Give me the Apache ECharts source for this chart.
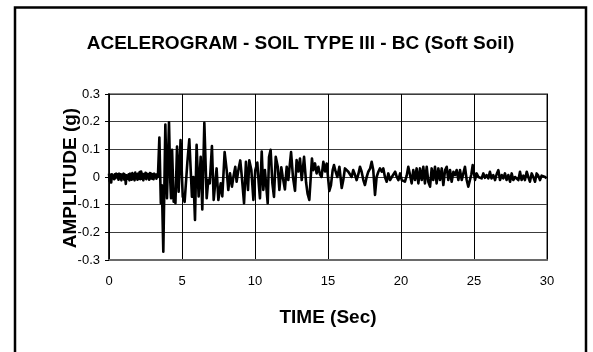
<!DOCTYPE html>
<html><head><meta charset="utf-8">
<script src="https://cdn.jsdelivr.net/npm/echarts@6/dist/echarts.min.js"></script>
<style>html,body{margin:0;padding:0;background:#fff}#c{width:593px;height:352px}</style>
</head><body><div id="c"></div>
<script>
var chartTitle = 'ACELEROGRAM - SOIL TYPE III - BC (Soft Soil)';
var xName = 'TIME (Sec)';
var yName = 'AMPLITUDE (g)';
var xTicks = [0, 5, 10, 15, 20, 25, 30];
var yTicks = [-0.3, -0.2, -0.1, 0, 0.1, 0.2, 0.3];

// time (s)
var time = [
0.00,0.05,0.10,0.15,0.20,0.25,0.30,0.35,0.40,0.45,0.50,0.55,0.60,0.65,0.70,0.75,0.80,0.85,0.90,0.95,
1.00,1.05,1.10,1.15,1.20,1.25,1.30,1.35,1.40,1.45,1.50,1.55,1.60,1.65,1.70,1.75,1.80,1.85,1.90,1.95,
2.00,2.05,2.10,2.15,2.20,2.25,2.30,2.35,2.40,2.45,2.50,2.55,2.60,2.65,2.70,2.75,2.80,2.85,2.90,2.95,
3.00,3.05,3.10,3.15,3.20,3.25,3.30,
3.35,3.45,3.55,3.62,3.72,3.86,3.97,4.11,4.20,4.25,4.32,4.43,4.50,4.55,4.66,4.77,4.90,
5.05,5.18,5.37,5.50,5.68,5.78,5.89,6.00,6.14,6.28,6.39,6.53,6.69,6.80,6.90,
7.05,7.17,7.27,7.37,7.49,7.65,7.76,7.92,8.06,8.17,8.29,8.42,8.52,8.65,8.74,8.88,8.99,
9.10,9.25,9.38,9.52,9.61,9.75,9.89,10.02,10.16,10.25,10.34,10.46,10.57,10.68,10.87,10.96,
11.07,11.19,11.30,11.42,11.56,11.67,11.80,11.90,12.05,12.17,12.28,12.47,12.60,12.74,12.85,12.97,
13.08,13.20,13.36,13.50,13.60,13.72,13.90,13.99,14.11,14.22,14.34,14.45,14.56,14.68,14.80,14.91,
15.00,15.09,15.20,15.32,15.41,15.52,15.64,15.78,15.94,16.05,16.16,16.28,16.39,16.50,16.62,16.73,16.85,16.96,
17.08,17.19,17.30,17.42,17.53,17.65,17.76,17.88,17.99,18.10,18.22,18.33,18.45,18.56,18.68,18.79,18.90,
19.02,19.13,19.25,19.37,19.48,19.60,19.71,19.82,19.94,20.05,20.16,20.27,20.39,20.50,20.62,20.73,20.84,20.96,
21.07,21.19,21.30,21.42,21.53,21.64,21.76,21.87,21.99,22.10,22.21,22.33,22.44,22.56,22.67,22.79,22.90,
23.02,23.13,23.24,23.36,23.47,23.59,23.70,23.81,23.93,24.04,24.16,24.27,24.38,24.50,24.61,24.73,24.82,24.91,
25.00,25.07,25.18,25.30,25.41,25.52,25.64,25.75,25.86,25.98,26.09,26.20,26.32,26.44,26.55,26.67,26.78,26.90,
27.01,27.12,27.23,27.35,27.47,27.58,27.69,27.81,27.92,28.04,28.15,28.26,28.38,28.49,28.61,28.72,28.83,28.95,
29.06,29.18,29.29,29.40,29.52,29.63,29.75,29.87,29.97
];
// acceleration (g)
var accel = [
0.012,-0.015,0.008,-0.02,0.01,0.004,0.012,-0.008,0.01,-0.004,0.012,0.0,0.01,-0.01,0.012,-0.005,0.01,-0.012,0.008,-0.003,
0.012,-0.01,0.008,-0.025,0.006,0.012,-0.006,0.01,-0.012,0.012,0.002,-0.01,0.014,-0.006,0.01,-0.012,0.016,-0.004,0.01,-0.01,
0.012,-0.006,0.018,-0.008,0.02,-0.006,0.012,-0.012,0.01,-0.004,0.015,-0.008,0.012,0.0,0.01,-0.01,0.014,-0.005,0.012,-0.006,
0.01,-0.008,0.012,0.0,0.008,-0.006,0.01,
0.0,0.143,-0.095,-0.03,-0.27,0.19,-0.077,0.198,-0.02,-0.077,0.098,-0.089,-0.05,-0.095,0.11,-0.053,0.134,
-0.071,-0.09,0.055,0.136,-0.071,0.0,-0.155,0.116,-0.07,0.073,-0.117,0.196,-0.077,-0.01,-0.023,
0.112,-0.083,-0.077,0.031,-0.083,-0.023,-0.07,0.09,0.025,-0.047,0.013,-0.035,0.0,0.037,-0.017,0.031,0.06,
0.0,-0.095,0.055,-0.047,0.06,0.025,-0.083,0.025,0.052,-0.02,-0.077,0.092,-0.047,0.025,-0.095,0.072,
0.098,-0.023,-0.072,0.073,0.037,-0.047,0.035,0.0,-0.045,0.037,-0.011,0.09,0.0,-0.05,0.061,0.02,
0.067,-0.011,0.073,-0.02,-0.06,-0.083,0.067,0.025,0.049,0.013,0.037,0.01,0.0,0.055,0.02,0.049,
0.0,-0.05,-0.03,0.025,0.043,0.02,0.0,0.037,-0.04,-0.01,0.031,0.03,0.019,0.025,0.0,0.025,0.008,-0.011,
0.01,0.037,0.02,-0.011,-0.029,0.0,0.019,0.03,0.055,0.025,-0.065,0.0,0.019,0.031,0.019,0.031,0.0,
-0.017,0.013,-0.011,0.0,-0.005,0.019,0.0,-0.011,0.013,-0.011,-0.017,-0.017,0.005,0.037,0.007,-0.023,0.025,-0.011,
0.031,-0.023,0.031,-0.011,0.037,-0.023,0.037,-0.017,-0.035,0.031,-0.011,0.037,-0.023,0.031,-0.011,0.031,-0.029,
0.025,0.037,-0.011,0.025,-0.017,0.019,0.007,0.025,-0.011,0.025,-0.011,0.013,0.037,-0.011,-0.035,-0.04,0.01,0.043,
0.013,-0.011,0.013,0.0,0.007,-0.005,0.013,-0.003,0.007,-0.005,0.019,-0.005,0.007,-0.011,0.01,0.025,-0.011,0.007,
-0.005,0.013,-0.011,0.007,-0.017,0.013,-0.011,0.0,0.007,-0.011,0.019,-0.011,0.005,-0.011,0.019,0.0,-0.017,0.013,
0.0,-0.017,0.013,0.005,-0.011,0.005,0.011,0.0,-0.005
];

var seriesData = time.map(function (t, i) { return [t, accel[i]]; });
var font = '"Liberation Sans", Arial, sans-serif';

var chart = echarts.init(document.getElementById('c'), null, {renderer: 'canvas'});
chart.setOption({
  animation: false,
  backgroundColor: '#fff',
  grid: {left: 109, top: 94, width: 438, height: 166, show: true, borderColor: '#8a8a8a', borderWidth: 2, backgroundColor: 'transparent'},
  xAxis: {
    type: 'value', min: xTicks[0], max: xTicks[xTicks.length - 1], interval: 5,
    axisLine: {show: true, onZero: false, lineStyle: {color: '#6a6a6a', width: 2}},
    axisTick: {show: false},
    splitLine: {show: true, lineStyle: {color: '#000', width: 1}},
    axisLabel: {color: '#000', fontSize: 13, fontFamily: font, margin: 15}
  },
  yAxis: {
    type: 'value', min: yTicks[0], max: yTicks[yTicks.length - 1], interval: 0.1,
    axisLine: {show: true, onZero: false, lineStyle: {color: '#000', width: 1.5}},
    axisTick: {show: true, length: 4, lineStyle: {color: '#000'}},
    splitLine: {show: true, lineStyle: {color: '#3c3c3c', width: 1}},
    axisLabel: {color: '#000', fontSize: 13, fontFamily: font, margin: 9,
      formatter: function (v) { var r = Math.round(v * 10) / 10; return r === 0 ? '0' : String(r); }}
  },
  series: [{
    type: 'line', data: seriesData, showSymbol: false, symbol: 'none',
    lineStyle: {color: '#000', width: 2.6, join: 'round'}, z: 3
  }],
  graphic: [
    {type: 'rect', shape: {x: 15, y: 7.5, width: 571, height: 400}, style: {fill: 'none', stroke: '#000', lineWidth: 2.5}, z: 10},
    {type: 'text', x: 300.5, y: 44, style: {text: chartTitle, font: 'bold 19px ' + font, fill: '#000', textAlign: 'center', textVerticalAlign: 'middle'}, z: 10},
    {type: 'text', x: 328, y: 318, style: {text: xName, font: 'bold 19px ' + font, fill: '#000', textAlign: 'center', textVerticalAlign: 'middle'}, z: 10},
    {type: 'text', x: 71, y: 178, rotation: Math.PI / 2, style: {text: yName, font: 'bold 19px ' + font, fill: '#000', textAlign: 'center', textVerticalAlign: 'middle'}, z: 10}
  ]
});
</script></body></html>
